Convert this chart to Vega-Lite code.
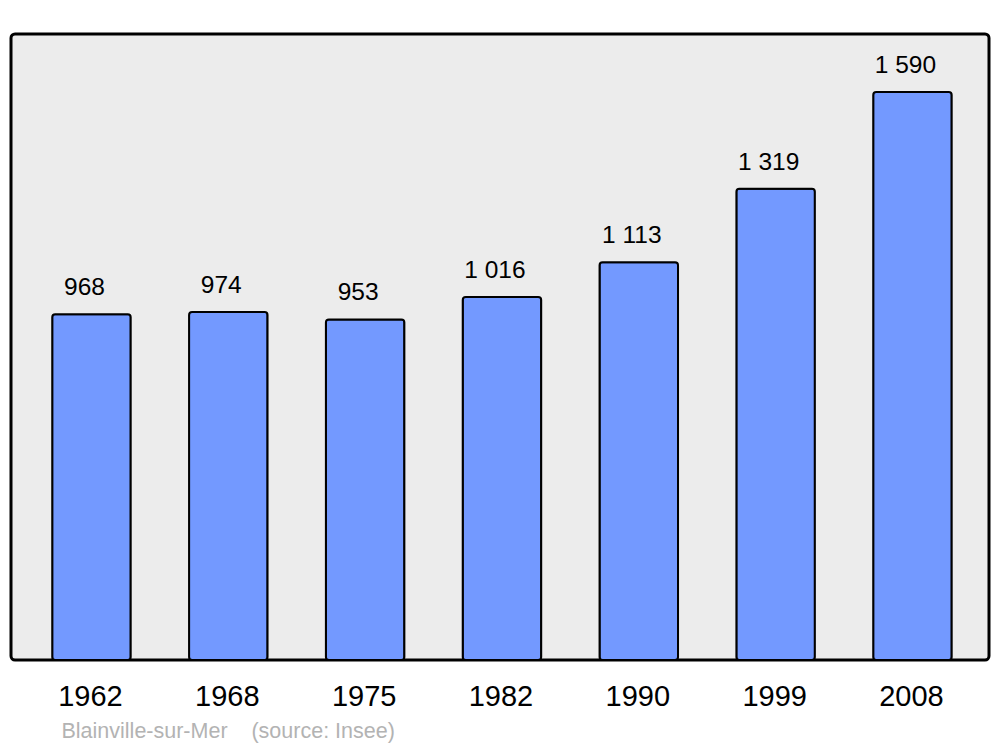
{
  "$schema": "https://vega.github.io/schema/vega-lite/v6.json",
  "width": 978,
  "height": 626,
  "autosize": {"type": "none"},
  "padding": {"left": 11, "top": 34, "right": 11, "bottom": 87},
  "background": "#ffffff",
  "data": {"values": [
    {"year": "1962", "population": 968},
    {"year": "1968", "population": 974},
    {"year": "1975", "population": 953},
    {"year": "1982", "population": 1016},
    {"year": "1990", "population": 1113},
    {"year": "1999", "population": 1319},
    {"year": "2008", "population": 1590}
  ]},
  "encoding": {
    "x": {
      "field": "year", "type": "nominal", "sort": null,
      "scale": {"paddingInner": 0.4265, "paddingOuter": 0.287, "align": 0.525},
      "axis": {
        "title": "Blainville-sur-Mer\u00a0\u00a0\u00a0\u00a0(source: Insee)",
        "titleFont": "Liberation Sans", "titleFontSize": 21.5, "titleFontWeight": "normal",
        "titleColor": "#b3b3b3", "titleAnchor": "start", "titleAlign": "left",
        "titleBaseline": "alphabetic", "titleX": 50, "titleY": 77,
        "labelAngle": 0, "labelFont": "Liberation Sans", "labelFontSize": 29,
        "labelColor": "#000000", "labelBaseline": "alphabetic", "labelPadding": 45,
        "labelOffset": -1,
        "ticks": false, "tickSize": 0, "domain": false, "grid": false
      }
    },
    "y": {
      "field": "population", "type": "quantitative",
      "scale": {"domain": [0, 1752], "nice": false, "zero": true},
      "axis": null
    }
  },
  "layer": [
    {
      "mark": {"type": "bar", "fill": "#7399ff", "stroke": "#000000", "strokeWidth": 2, "cornerRadius": 3}
    },
    {
      "mark": {"type": "text", "font": "Liberation Sans", "fontSize": 24.5, "color": "#000000", "baseline": "alphabetic", "dy": -19, "dx": -7},
      "encoding": {"text": {"field": "population", "type": "quantitative", "format": ",d"}}
    }
  ],
  "config": {
    "locale": {"number": {"decimal": ",", "thousands": " ", "grouping": [3], "currency": ["", " €"]}},
    "view": {"fill": "#ececec", "stroke": "#000000", "strokeWidth": 3, "cornerRadius": 4}
  }
}
